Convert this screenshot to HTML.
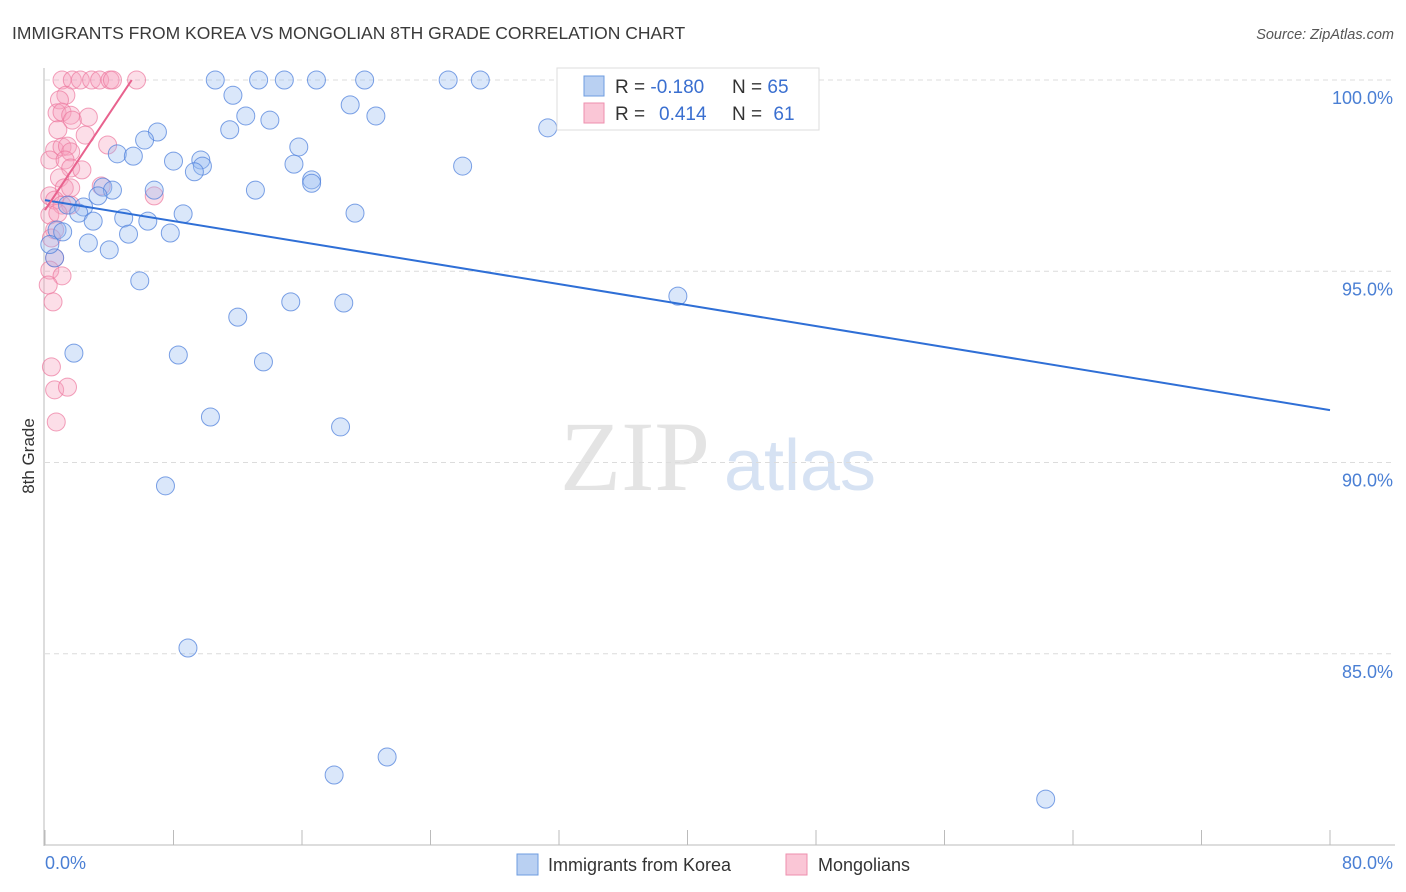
<!DOCTYPE html>
<html><head><meta charset="utf-8"><style>
body{margin:0;background:#fff;font-family:"Liberation Sans",sans-serif}
svg{display:block}
</style></head><body>
<svg id="chart" width="1406" height="892" viewBox="0 0 1406 892" xmlns="http://www.w3.org/2000/svg">
<text x="12" y="39" font-size="17.5" fill="#3a3a3a">IMMIGRANTS FROM KOREA VS MONGOLIAN 8TH GRADE CORRELATION CHART</text>
<text x="1394" y="39" font-size="14.5" fill="#555" font-style="italic" text-anchor="end">Source: ZipAtlas.com</text>
<g>
<text x="635" y="490" font-size="100" fill="#e4e4e4" font-family="Liberation Serif" text-anchor="middle">ZIP</text>
<text x="800" y="490" font-size="72" fill="#d6e2f3" text-anchor="middle">atlas</text>
</g>
<g id="grid"></g>
<g id="axes"></g>
<g id="marks"></g>
<text transform="translate(34,456) rotate(-90)" font-size="17" fill="#333" text-anchor="middle">8th Grade</text>
<g>
<rect x="557" y="68" width="262" height="62" fill="#fff" stroke="#ddd"/>
<rect x="584" y="76" width="20" height="20" fill="#b9d0f2" stroke="#6e9ce0"/>
<rect x="584" y="103" width="20" height="20" fill="#fac6d6" stroke="#ee8fae"/>
<text x="615" y="93" font-size="19" fill="#333">R = <tspan fill="#3a6fd0">-0.180</tspan></text>
<text x="732" y="93" font-size="19" fill="#333">N = <tspan fill="#3a6fd0">65</tspan></text>
<text x="615" y="120" font-size="19" fill="#333">R = </text>
<text x="659" y="120" font-size="19" fill="#3a6fd0">0.414</text>
<text x="732" y="120" font-size="19" fill="#333">N = <tspan fill="#3a6fd0" dx="6">61</tspan></text>
</g>
<g>
<rect x="517" y="854" width="21" height="21" fill="#b9d0f2" stroke="#6e9ce0"/>
<text x="548" y="871" font-size="18" fill="#333">Immigrants from Korea</text>
<rect x="786" y="854" width="21" height="21" fill="#fac6d6" stroke="#ee8fae"/>
<text x="818" y="871" font-size="18" fill="#333">Mongolians</text>
</g>
</svg>
<script>
const yTicks=[100,95,90,85];
const yTickLabels=["100.0%","95.0%","90.0%","85.0%"];
const xTickLabels=["0.0%","80.0%"];
const koreaX=[10.6,13.3,14.9,16.9,19.9,25.1,27.1,39.3,11.7,19.0,20.6,12.5,14.0,11.5,7.0,6.2,31.3,15.8,4.5,5.5,8.0,9.7,15.5,9.8,9.3,26.0,16.6,16.6,6.8,3.6,4.2,13.1,3.3,1.4,2.4,2.1,8.6,19.3,4.9,3.0,6.4,0.75,1.1,5.2,7.8,2.7,4.0,0.6,5.9,15.3,18.6,39.4,12.0,1.8,8.3,13.6,10.3,18.4,7.5,8.9,21.3,18.0,62.3,0.3];
const koreaY=[100,100,100,100,100,100,100,100,99.6,99.35,99.06,99.06,98.95,98.7,98.64,98.43,98.75,98.25,98.07,98.01,97.88,97.91,97.8,97.75,97.6,97.75,97.39,97.3,97.12,97.2,97.12,97.12,96.97,96.73,96.68,96.52,96.5,96.52,96.39,96.31,96.31,96.08,96.03,95.97,96.0,95.74,95.56,95.35,94.75,94.2,94.17,94.35,93.8,92.86,92.81,92.63,91.19,90.93,89.39,85.15,82.3,81.83,81.2,95.7];
const mongX=[1.06,1.7,2.2,2.9,3.4,4.05,4.2,5.7,1.3,0.9,0.75,1.06,1.6,2.7,1.7,0.8,0.6,1.06,1.4,1.6,2.5,3.9,0.3,1.25,1.6,2.3,0.9,1.2,1.6,3.5,6.8,0.3,0.6,1.06,1.6,0.3,0.8,0.6,0.4,0.6,0.3,1.06,0.2,0.5,0.4,0.6,1.4,0.7];
const mongY=[100,100,100,100,100,100,100,100,99.6,99.48,99.14,99.16,99.08,99.03,98.95,98.7,98.17,98.25,98.27,98.12,98.56,98.3,97.91,97.91,97.7,97.65,97.44,97.18,97.18,97.23,96.97,96.97,96.86,96.73,96.73,96.47,96.52,96.08,95.87,95.35,95.03,94.88,94.64,94.2,92.5,91.9,91.97,91.06];
const koreaTrend=[0,96.86,80,91.37];
const mongTrend=[0,96.6,5.4,100];

const NS="http://www.w3.org/2000/svg";
const sx=v=>45+v*16.0625;
const sy=v=>80+(100-v)*38.25;
function mk(tag,attrs,parent){const e=document.createElementNS(NS,tag);for(const k in attrs)e.setAttribute(k,attrs[k]);parent.appendChild(e);return e;}
const grid=document.getElementById('grid'),axes=document.getElementById('axes'),marks=document.getElementById('marks');
yTicks.forEach((t,i)=>{
 const l=mk('line',{x1:45,x2:1395,y1:sy(t),y2:sy(t),stroke:'#dcdcdc','stroke-dasharray':'5,4'},grid);
 
 
 const tx=mk('text',{x:1393,y:sy(t)+24,'font-size':18,fill:'#4a7fd4','text-anchor':'end'},axes);
 tx.textContent=yTickLabels[i];
 
 
});
let a=mk('line',{x1:44,x2:44,y1:68,y2:846,stroke:'#bbb'},axes);


a=mk('line',{x1:44,x2:1395,y1:845,y2:845,stroke:'#bbb'},axes);


for(let i=0;i<=10;i++){const t=mk('line',{x1:sx(i*8),x2:sx(i*8),y1:830,y2:845,stroke:'#bbb'},axes);
 
 }
let xl=mk('text',{x:45,y:869,'font-size':18,fill:'#4a7fd4'},axes);xl.textContent=xTickLabels[0];


xl=mk('text',{x:1393,y:869,'font-size':18,fill:'#4a7fd4','text-anchor':'end'},axes);xl.textContent=xTickLabels[1];


mongX.forEach((x,i)=>{const c=mk('circle',{cx:sx(x),cy:sy(mongY[i]),r:9,fill:'rgba(246,160,188,0.35)',stroke:'rgba(236,120,158,0.7)','stroke-width':1},marks);
 
 });
koreaX.forEach((x,i)=>{const c=mk('circle',{cx:sx(x),cy:sy(koreaY[i]),r:9,fill:'rgba(150,185,240,0.35)',stroke:'rgba(80,130,220,0.75)','stroke-width':1},marks);
 
 });
let tl=mk('line',{x1:sx(koreaTrend[0]),y1:sy(koreaTrend[1]),x2:sx(koreaTrend[2]),y2:sy(koreaTrend[3]),stroke:'#2f6fd6','stroke-width':2},marks);


tl=mk('line',{x1:sx(mongTrend[0]),y1:sy(mongTrend[1]),x2:sx(mongTrend[2]),y2:sy(mongTrend[3]),stroke:'#e8628e','stroke-width':2},marks);


</script>
</body></html>
